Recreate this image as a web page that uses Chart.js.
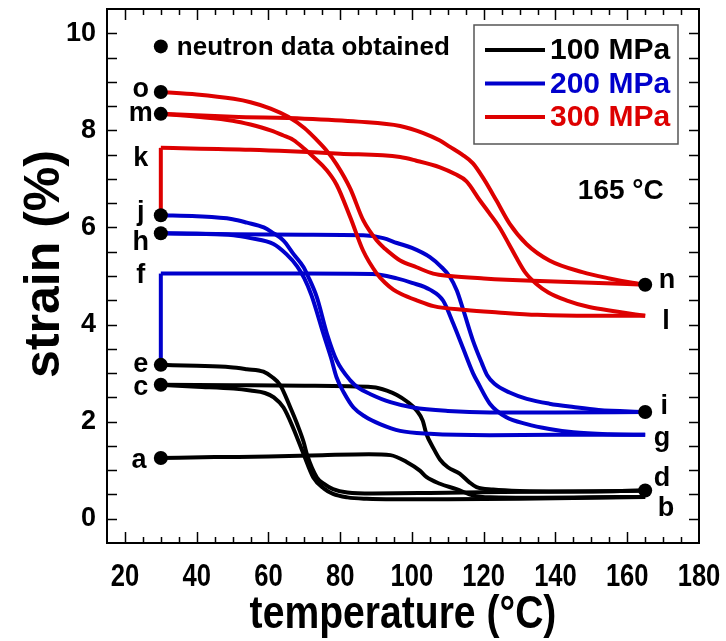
<!DOCTYPE html>
<html>
<head>
<meta charset="utf-8">
<script src="https://cdn.jsdelivr.net/npm/chart.js@4/dist/chart.umd.min.js"></script>
<style>
  html, body { margin: 0; padding: 0; background: #fff; }
  #wrap { width: 726px; height: 641px; }
</style>
</head>
<body>
<div id="wrap"><canvas id="c" width="726" height="641"></canvas></div>
<script>
// Axis tick labels
const xTicks = [20, 40, 60, 80, 100, 120, 140, 160, 180];
const yTicks = [0, 2, 4, 6, 8, 10];

// 100 MPa cycles
const abT = [30, 45, 60, 75, 88, 94, 98.5, 102.2, 104, 107.8, 112.4, 117, 121.7, 135, 150, 165];
const abS = [1.25, 1.27, 1.28, 1.31, 1.33, 1.31, 1.17, 0.99, 0.86, 0.72, 0.61, 0.48, 0.44, 0.43, 0.44, 0.45];
const bcT = [165, 150, 130, 110, 95, 87.4, 82, 78, 75.5, 72.5, 69.8, 67, 64.2, 61.5, 59, 55, 50.3, 40, 30];
const bcS = [0.45, 0.43, 0.41, 0.40, 0.40, 0.41, 0.44, 0.51, 0.62, 0.85, 1.33, 1.85, 2.29, 2.5, 2.59, 2.64, 2.68, 2.72, 2.76];
const cdT = [30, 50, 70, 89.2, 93, 95.8, 98.5, 101.3, 103, 104, 106, 107.8, 110, 113.3, 116, 118, 122.6, 130, 145, 165];
const cdS = [2.76, 2.75, 2.74, 2.71, 2.64, 2.55, 2.42, 2.23, 2.02, 1.75, 1.45, 1.22, 1.06, 0.93, 0.75, 0.65, 0.60, 0.57, 0.56, 0.58];
const deT = [165, 145, 125, 105, 89, 82, 78, 75.5, 73.5, 70.7, 69.8, 68, 66.1, 63.3, 61, 58.6, 54, 49.4, 40, 30];
const deS = [0.58, 0.56, 0.55, 0.53, 0.52, 0.54, 0.61, 0.72, 0.85, 1.33, 1.58, 1.95, 2.29, 2.75, 2.92, 3.03, 3.08, 3.12, 3.15, 3.17];

// 200 MPa cycles
const efT = [30, 30];
const efS = [3.17, 5.05];
const fgT = [30, 50, 70, 89, 95.8, 100, 105, 108.7, 111.5, 114.3, 117, 118.4, 121.7, 126.3, 132, 138.3, 145, 155, 165];
const fgS = [5.05, 5.05, 5.05, 5.04, 4.95, 4.86, 4.72, 4.49, 4.02, 3.5, 3.0, 2.8, 2.37, 2.09, 1.95, 1.85, 1.78, 1.74, 1.73];
const ghT = [165, 140, 121.7, 105, 96.7, 91.1, 87, 83.7, 81, 79, 77.5, 75.3, 72, 70, 68, 65, 61.4, 55, 50.3, 40, 30];
const ghS = [1.73, 1.73, 1.72, 1.75, 1.81, 1.95, 2.1, 2.29, 2.6, 2.91, 3.3, 3.81, 4.6, 4.95, 5.2, 5.45, 5.66, 5.78, 5.84, 5.87, 5.88];
const hiT = [30, 50, 70, 86.4, 92, 95.8, 100, 105, 108, 110.6, 112.5, 114.3, 117, 119.5, 121, 123, 127.2, 132, 138.3, 145, 152, 165];
const hiS = [5.88, 5.86, 5.85, 5.84, 5.78, 5.68, 5.58, 5.39, 5.2, 4.98, 4.7, 4.3, 3.67, 3.2, 2.95, 2.78, 2.6, 2.47, 2.37, 2.3, 2.24, 2.2];
const ijT = [165, 140, 121.7, 110, 100.3, 94, 88.3, 85, 82.8, 79, 76.3, 73.5, 71, 69.8, 67, 64.2, 61, 58.7, 54, 50, 40, 30];
const ijS = [2.2, 2.19, 2.19, 2.22, 2.29, 2.4, 2.57, 2.7, 2.85, 3.26, 3.81, 4.56, 5.0, 5.18, 5.45, 5.73, 5.9, 6.0, 6.1, 6.17, 6.23, 6.25];

// 300 MPa cycles
const jkT = [30, 30];
const jkS = [6.25, 7.64];
const klT = [30, 55, 80, 96.7, 101, 107.8, 112, 115.2, 118.9, 121.5, 124.4, 127, 129, 131.5, 134.6, 138, 143, 149.4, 156.9, 165];
const klS = [7.64, 7.6, 7.52, 7.45, 7.38, 7.24, 7.1, 6.95, 6.56, 6.3, 6.0, 5.66, 5.39, 5.08, 4.84, 4.66, 4.5, 4.36, 4.27, 4.18];
const lmT = [165, 150, 135, 124, 115, 106, 101.3, 97, 94.8, 92.5, 90.2, 86.4, 82.8, 79, 76, 73, 70, 67, 64, 60.6, 55, 50, 40, 30];
const lmS = [4.18, 4.18, 4.2, 4.25, 4.3, 4.38, 4.5, 4.63, 4.72, 4.86, 5.05, 5.52, 6.21, 6.88, 7.2, 7.42, 7.62, 7.8, 7.9, 8.0, 8.12, 8.2, 8.28, 8.34];
const mnT = [30, 50, 70, 85, 96.7, 103, 107.8, 110.6, 114, 117, 120, 123.5, 127.2, 131.9, 138.3, 147.5, 155, 161.4, 165];
const mnS = [8.34, 8.28, 8.24, 8.18, 8.09, 7.95, 7.79, 7.66, 7.5, 7.32, 7.0, 6.56, 6.08, 5.66, 5.32, 5.08, 4.95, 4.86, 4.82];
const noT = [165, 150, 133.6, 120, 110.6, 105.9, 101.3, 96.7, 94.8, 92.5, 90.2, 86.4, 82.8, 79, 76, 73.5, 70, 65.5, 60.6, 55, 50.3, 40, 30];
const noS = [4.82, 4.86, 4.9, 4.95, 5.0, 5.05, 5.18, 5.32, 5.42, 5.56, 5.73, 6.15, 6.8, 7.3, 7.6, 7.8, 8.05, 8.28, 8.45, 8.58, 8.65, 8.74, 8.79];

// States where neutron data were taken
const markT = [30, 30, 30, 30, 30, 30, 30, 165, 165, 165];
const markS = [8.79, 8.34, 6.25, 5.88, 3.17, 2.76, 1.25, 4.82, 2.2, 0.58];

// State labels
const stateNames = ['o', 'm', 'k', 'j', 'h', 'f', 'e', 'c', 'a', 'n', 'l', 'i', 'g', 'd', 'b'];
const stateT = [24.4, 24.4, 24.4, 24.4, 24.4, 24.4, 24.4, 24.4, 23.9, 171.1, 170.8, 170.3, 169.7, 169.7, 170.8];
const stateS = [8.85, 8.35, 7.42, 6.3, 5.68, 5.0, 3.18, 2.71, 1.2, 4.9, 4.06, 2.32, 1.65, 0.82, 0.22];

// Legend entries
const loadLabels = ['100 MPa', '200 MPa', '300 MPa'];

const BLACK = '#000000', BLUE = '#0000cc', RED = '#dd0000';
const loadColors = [BLACK, BLUE, RED];

const SANS = '"Liberation Sans", Arial, Helvetica, sans-serif';

function pts(T, S) { return T.map((t, i) => ({ x: t, y: S[i] })); }

function curve(T, S, color, order) {
  const straight = T.length === 2;
  return {
    data: pts(T, S),
    borderColor: color,
    borderWidth: 4,
    pointRadius: 0,
    fill: false,
    showLine: true,
    tension: straight ? 0 : 0.4,
    cubicInterpolationMode: straight ? 'default' : 'monotone',
    borderCapStyle: 'butt',
    borderJoinStyle: 'round',
    order: order
  };
}

const datasets = [
  {
    data: pts(markT, markS),
    showLine: false,
    pointRadius: 7,
    pointBackgroundColor: '#000',
    pointBorderColor: '#000',
    pointBorderWidth: 0,
    order: 0
  },
  curve(abT, abS, BLACK, 3), curve(bcT, bcS, BLACK, 3),
  curve(cdT, cdS, BLACK, 3), curve(deT, deS, BLACK, 3),
  curve(efT, efS, BLUE, 2), curve(fgT, fgS, BLUE, 2), curve(ghT, ghS, BLUE, 2),
  curve(hiT, hiS, BLUE, 2), curve(ijT, ijS, BLUE, 2),
  curve(jkT, jkS, RED, 1), curve(klT, klS, RED, 1), curve(lmT, lmS, RED, 1),
  curve(mnT, mnS, RED, 1), curve(noT, noS, RED, 1)
];

// Frame with inward ticks on all four sides
const framePlugin = {
  id: 'frame',
  afterDatasetsDraw(chart) {
    const { ctx, chartArea: a, scales: { x, y } } = chart;
    ctx.save();
    ctx.strokeStyle = '#000';
    ctx.lineWidth = 1.5;
    ctx.beginPath();
    for (let v = 20; v < 180; v += 5) {
      const px = Math.round(x.getPixelForValue(v)) + 0.5;
      const len = v % 20 === 0 ? 11 : 6;
      ctx.moveTo(px, a.bottom); ctx.lineTo(px, a.bottom - len);
      ctx.moveTo(px, a.top); ctx.lineTo(px, a.top + len);
    }
    for (let v = 0; v <= 10; v += 0.5) {
      const py = Math.round(y.getPixelForValue(v)) + 0.5;
      ctx.moveTo(a.left, py); ctx.lineTo(a.left + 10, py);
      ctx.moveTo(a.right, py); ctx.lineTo(a.right - 10, py);
    }
    ctx.stroke();
    ctx.lineWidth = 2;
    ctx.strokeRect(a.left, a.top, a.right - a.left, a.bottom - a.top);
    ctx.restore();
  }
};

// Condensed x-axis tick labels and both axis titles, placed from the scales
const axisTextPlugin = {
  id: 'axisText',
  afterDraw(chart) {
    const { ctx, chartArea: a, scales: { x } } = chart;
    ctx.save();
    ctx.fillStyle = '#000';
    ctx.textAlign = 'center';
    ctx.textBaseline = 'alphabetic';
    ctx.font = 'bold 32px ' + SANS;
    x.ticks.forEach(t => {
      const px = x.getPixelForValue(t.value);
      ctx.save();
      ctx.translate(px, a.bottom + 43);
      ctx.scale(0.8, 1);
      ctx.fillText(String(t.value), 0, 0);
      ctx.restore();
    });

    ctx.save();
    ctx.font = 'bold 46px ' + SANS;
    ctx.translate((a.left + a.right) / 2, a.bottom + 85);
    ctx.scale(0.85, 1);
    ctx.fillText('temperature (°C)', 0, 0);
    ctx.restore();

    ctx.save();
    ctx.font = 'bold 50px ' + SANS;
    ctx.textBaseline = 'middle';
    ctx.translate(45, (a.top + a.bottom) / 2 - 12);
    ctx.rotate(-Math.PI / 2);
    ctx.fillText('strain (%)', 0, 0);
    ctx.restore();
    ctx.restore();
  }
};

// State letters, notes and the load legend
const notesPlugin = {
  id: 'notes',
  afterDraw(chart) {
    const { ctx, chartArea: a, scales: { x, y } } = chart;
    ctx.save();
    ctx.fillStyle = '#000';
    ctx.textAlign = 'center';
    ctx.textBaseline = 'middle';
    ctx.font = 'bold 27px ' + SANS;
    stateNames.forEach((s, i) => {
      ctx.fillText(s, x.getPixelForValue(stateT[i]), y.getPixelForValue(stateS[i]));
    });

    // neutron marker note
    const nx = x.getPixelForValue(30), ny = y.getPixelForValue(9.73);
    ctx.beginPath();
    ctx.arc(nx, ny, 7, 0, Math.PI * 2);
    ctx.fill();
    ctx.textAlign = 'left';
    ctx.font = 'bold 26px ' + SANS;
    ctx.fillText('neutron data obtained', nx + 16, ny + 1);

    // temperature note
    ctx.textAlign = 'center';
    ctx.font = 'bold 28px ' + SANS;
    ctx.fillText('165 °C', x.getPixelForValue(158.2), y.getPixelForValue(6.74));

    // legend box
    const bx = a.right - 225, by = a.top + 16, bw = 204, bh = 119;
    ctx.strokeStyle = '#555';
    ctx.lineWidth = 1.5;
    ctx.strokeRect(bx, by, bw, bh);
    ctx.font = 'bold 30px ' + SANS;
    ctx.textAlign = 'left';
    loadLabels.forEach((lab, i) => {
      const ly = by + 25 + i * 33.5;
      ctx.strokeStyle = loadColors[i];
      ctx.lineWidth = 4;
      ctx.beginPath();
      ctx.moveTo(bx + 11, ly); ctx.lineTo(bx + 71, ly);
      ctx.stroke();
      ctx.fillStyle = loadColors[i];
      ctx.fillText(lab, bx + 76, ly + 1);
    });
    ctx.restore();
  }
};

new Chart(document.getElementById('c'), {
  type: 'scatter',
  data: { datasets },
  options: {
    responsive: false,
    animation: false,
    events: [],
    layout: { padding: { top: 9, right: 27, left: 0, bottom: 0 } },
    plugins: { legend: { display: false }, tooltip: { enabled: false } },
    scales: {
      x: {
        type: 'linear', min: 15, max: 180,
        afterBuildTicks: s => { s.ticks = xTicks.map(v => ({ value: v })); },
        afterFit: s => { s.height = 98; s.paddingLeft = 0; s.paddingRight = 0; },
        grid: { display: false, drawTicks: false },
        border: { display: false },
        ticks: { display: false },
        title: { display: false }
      },
      y: {
        type: 'linear', min: -0.5, max: 10.5,
        afterBuildTicks: s => { s.ticks = yTicks.map(v => ({ value: v })); },
        afterFit: s => { s.width = 107; s.paddingTop = 0; s.paddingBottom = 0; },
        grid: { display: false, drawTicks: false },
        border: { display: false },
        ticks: { color: '#000', padding: 11,
                 font: { family: SANS, size: 27, weight: 'bold', lineHeight: 1 } },
        title: { display: false }
      }
    }
  },
  plugins: [framePlugin, axisTextPlugin, notesPlugin]
});
</script>
</body>
</html>
